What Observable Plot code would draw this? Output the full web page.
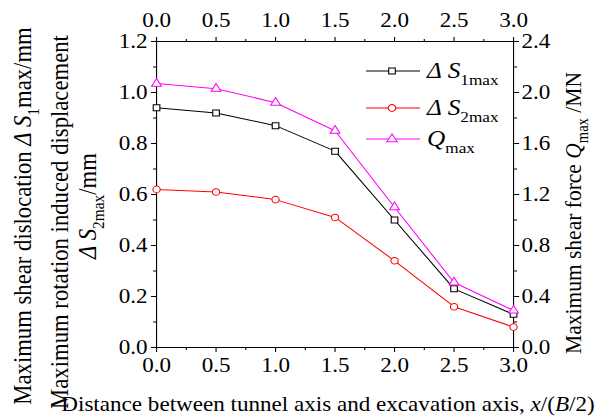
<!DOCTYPE html>
<html>
<head>
<meta charset="utf-8">
<script src="https://cdn.jsdelivr.net/npm/d3@7"></script>
<script src="https://cdn.jsdelivr.net/npm/@observablehq/plot@0.6"></script>
<style>
  html, body { margin: 0; padding: 0; background: #fff; }
  #chart svg { display: block; }
</style>
</head>
<body>
<div id="chart"></div>
<script>
// ---- data ----
const xValues = [0.0, 0.5, 1.0, 1.5, 2.0, 2.5, 3.0];
const s1max   = [0.94, 0.92, 0.87, 0.77, 0.50, 0.23, 0.13];   // mm (left axis)
const s2max   = [0.62, 0.61, 0.58, 0.51, 0.34, 0.16, 0.08];   // mm (left axis)
const qmax    = [2.07, 2.03, 1.92, 1.70, 1.10, 0.51, 0.29];   // MN (right axis)

const xTicks      = [0.0, 0.5, 1.0, 1.5, 2.0, 2.5, 3.0];
const xMinorTicks = [0.25, 0.75, 1.25, 1.75, 2.25, 2.75];
const yLeftTicks  = [0.0, 0.2, 0.4, 0.6, 0.8, 1.0, 1.2];
const yLeftMinor  = [0.1, 0.3, 0.5, 0.7, 0.9, 1.1];
const yRightTicks = [0.0, 0.4, 0.8, 1.2, 1.6, 2.0, 2.4];
const yRightMinor = [0.2, 0.6, 1.0, 1.4, 1.8, 2.2];
const Q_RATIO = 2; // right axis range (2.4) / left axis range (1.2)

const rows = xValues.map((x, i) => ({x, s1: s1max[i], s2: s2max[i], q: qmax[i]}));

// ---- layout (the reference is slightly stretched horizontally) ----
const SX = 1.1;
const W = 606 / SX, H = 416;
const ux = px => px / SX;              // screen px -> viewBox units (horizontal)
const FONT = "'Liberation Serif', 'Times New Roman', Times, serif";
const TICK_FS = 21;

const fmt1 = d => d.toFixed(1);
const minor = {fill: "none", tickFormat: () => "", label: null, strokeWidth: 1};

const plot = Plot.plot({
  width: W, height: H,
  marginLeft: ux(156), marginRight: ux(606 - 513), marginTop: 41, marginBottom: 69,
  x: {domain: [0, 3]},
  y: {domain: [0, 1.2]},
  style: {fontFamily: FONT, fontSize: TICK_FS + "px", color: "black", background: "white", overflow: "visible"},
  marks: [
    // minor ticks (outward)
    Plot.axisX(xMinorTicks, {anchor: "bottom", tickSize: 3, ...minor}),
    Plot.axisX(xMinorTicks, {anchor: "top", tickSize: 3, ...minor}),
    Plot.axisY(yLeftMinor, {anchor: "left", tickSize: ux(3), ...minor}),
    Plot.axisY(yRightMinor.map(q => q / Q_RATIO), {anchor: "right", tickSize: ux(3), ...minor}),
    // major ticks + labels
    Plot.axisX(xTicks, {anchor: "bottom", tickSize: 5, tickPadding: 5, tickFormat: fmt1, fontSize: TICK_FS, label: null, strokeWidth: 1}),
    Plot.axisX(xTicks, {anchor: "top", tickSize: 5, tickPadding: 10, tickFormat: fmt1, fontSize: TICK_FS, label: null, strokeWidth: 1}),
    Plot.axisY(yLeftTicks, {anchor: "left", tickSize: ux(5), tickPadding: ux(4), tickFormat: fmt1, fontSize: TICK_FS, label: null, strokeWidth: 1}),
    Plot.axisY(yRightTicks.map(q => q / Q_RATIO), {anchor: "right", tickSize: ux(5), tickPadding: ux(3),
      tickFormat: v => (v * Q_RATIO).toFixed(1), fontSize: TICK_FS, label: null, strokeWidth: 1}),
    Plot.frame({stroke: "black", strokeWidth: 1}),
    // series
    Plot.line(rows, {x: "x", y: "s1", stroke: "#000000", strokeWidth: 1}),
    Plot.line(rows, {x: "x", y: "s2", stroke: "#ff0000", strokeWidth: 1}),
    Plot.line(rows, {x: "x", y: d => d.q / Q_RATIO, stroke: "#ff00ff", strokeWidth: 1}),
    Plot.dot(rows, {x: "x", y: "s1", symbol: "square", r: 3.4, stroke: "#000000", fill: "white", strokeWidth: 1}),
    Plot.dot(rows, {x: "x", y: "s2", symbol: "circle", r: 3.3, stroke: "#ff0000", fill: "white", strokeWidth: 1}),
    Plot.dot(rows, {x: "x", y: d => d.q / Q_RATIO, symbol: "triangle", r: 3.3, stroke: "#ff00ff", fill: "white", strokeWidth: 1})
  ]
});

const svg = d3.select(plot);
svg.attr("width", 606).attr("height", 416)
   .attr("viewBox", `0 0 ${W} ${H}`)
   .attr("preserveAspectRatio", "none")
   .style("width", "606px").style("height", "416px").style("max-width", "none");

// ---- rich text helper (italic / subscript parts) ----
function richText(parent, parts, size, attrs) {
  const t = parent.append("text")
    .attr("font-family", FONT).attr("font-size", size).attr("fill", "black");
  for (const [k, v] of Object.entries(attrs)) t.attr(k, v);
  let shifted = false;
  for (const p of parts) {
    const s = t.append("tspan").text(p.t);
    if (p.i) s.attr("font-style", "italic");
    if (p.sub && !shifted) { s.attr("dy", size * 0.3); shifted = true; }
    else if (!p.sub && shifted) { s.attr("dy", -size * 0.3); shifted = false; }
    if (p.sub) s.attr("font-size", size * 0.68);
  }
  return t;
}

const titles = svg.append("g");

// rotated titles
function vTitle(parts, cxScreen, cy, fs) {
  const cx = ux(cxScreen) + fs * 0.33;
  richText(titles, parts, fs, {"text-anchor": "middle", transform: `translate(${cx},${cy}) rotate(-90)`});
}
vTitle([{t: "Maximum shear dislocation "}, {t: "Δ ", i: 1}, {t: "S", i: 1}, {t: "1", sub: 1}, {t: "max/mm"}], 23, 216, 22.7);
vTitle([{t: "Maximum rotation induced displacement"}], 60, 222, 22.7);
vTitle([{t: "Δ ", i: 1}, {t: "S", i: 1}, {t: "2max", sub: 1}, {t: "/mm"}], 88, 206, 22.7);
vTitle([{t: "Maximum shear force "}, {t: "Q", i: 1}, {t: "max", sub: 1}, {t: " /MN"}], 573, 213, 21.5);
// bottom title
richText(titles, [{t: "Distance between tunnel axis and excavation axis, "}, {t: "x", i: 1}, {t: "/("}, {t: "B", i: 1}, {t: "/2)"}],
  21, {"text-anchor": "middle", x: ux(328), y: 411});

// ---- legend ----
const legendItems = [
  {color: "#000000", symbol: d3.symbolSquare, parts: [{t: "Δ ", i: 1}, {t: "S", i: 1}, {t: "1max", sub: 1}]},
  {color: "#ff0000", symbol: d3.symbolCircle, parts: [{t: "Δ ", i: 1}, {t: "S", i: 1}, {t: "2max", sub: 1}]},
  {color: "#ff00ff", symbol: d3.symbolTriangle, parts: [{t: "Q", i: 1}, {t: "max", sub: 1}]}
];
const legendY = [71, 108, 139];
const lg = svg.append("g");
legendItems.forEach((it, i) => {
  const y = legendY[i];
  lg.append("line").attr("x1", ux(366)).attr("x2", ux(420)).attr("y1", y).attr("y2", y)
    .attr("stroke", it.color).attr("stroke-width", 1);
  lg.append("path").attr("d", d3.symbol(it.symbol, Math.PI * 3.4 * 3.4)())
    .attr("transform", `translate(${ux(392)},${y})`)
    .attr("fill", "white").attr("stroke", it.color).attr("stroke-width", 1);
  richText(lg, it.parts, 23, {"text-anchor": "start", x: ux(427), y: y + 7});
});

document.getElementById("chart").appendChild(plot);
</script>
</body>
</html>
